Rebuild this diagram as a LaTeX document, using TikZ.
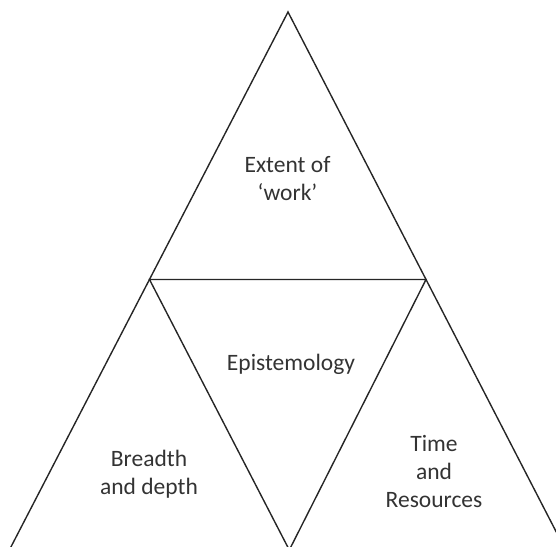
\documentclass[tikz,border=0pt]{standalone}
\usepackage{fontspec}
\setmainfont{Carlito}
\begin{document}
\begin{tikzpicture}[x=1pt,y=-1pt,
  edge/.style={line width=1.4pt, draw=black!85},
  caption/.style={font=\fontsize{23.5}{28}\selectfont, text=black!80,
    align=center, inner sep=0pt, anchor=base}]
\useasboundingbox (0,0) rectangle (556,546);
\clip (0,0) rectangle (556,546);
% corner points of the outer and inner triangles
\coordinate (apex) at (288,12);
\coordinate (ml) at (149.5,279.5);
\coordinate (mr) at (426,279.5);
\coordinate (bl) at (5.2,558);
\coordinate (br) at (569.7,558);
\coordinate (bm) at (289.3,550);
% outer triangle and the inverted middle triangle
\draw[edge] (bl) -- (apex) -- (br);
\draw[edge] (ml) -- (mr) -- (bm) -- cycle;
% labels of the four parts (anchored at the baseline of the last line)
\node[caption] (work) at (287.5,200) {Extent of\\‘work’};
\node[caption] (epis) at (291,370) {Epistemology};
\node[caption] (breadth) at (149,494) {Breadth\\and depth};
\node[caption] (time) at (434,507) {Time\\and\\Resources};
\end{tikzpicture}
\end{document}
